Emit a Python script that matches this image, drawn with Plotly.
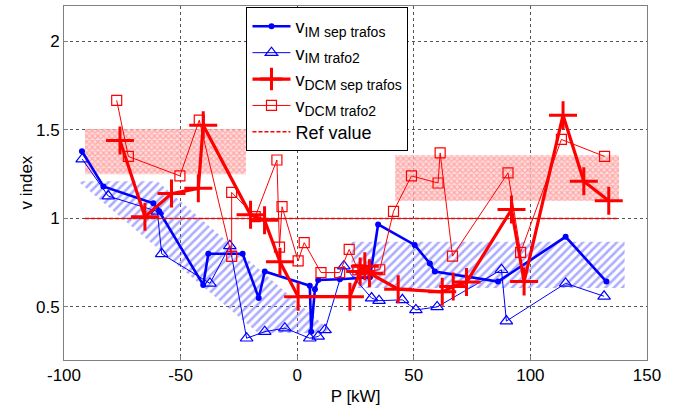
import plotly.graph_objects as go

# ---- data ----
im_sep_x = [-92.3, -83.1, -61.7, -59.2, -40.3, -38.1, -23.4, -16.5, -13.9, 5.4, 6.0, 7.6, 9.0, 18.3, 31.2, 34.7, 50.4, 56.9, 59.0, 86.1, 115.1, 132.6]
im_sep_y = [1.38, 1.18, 1.085, 1.04, 0.624, 0.80, 0.80, 0.55, 0.70, 0.62, 0.36, 0.60, 0.652, 0.656, 0.667, 0.966, 0.85, 0.745, 0.70, 0.643, 0.896, 0.643]

im_tr2_x = [-92.2, -81.0, -60.0, -58.1, -37.4, -28.9, -21.7, -13.9, -5.3, 5.4, 9.0, 11.9, 20.0, 31.9, 35.1, 45.1, 50.9, 60.0, 87.6, 89.7, 115.1, 131.6]
im_tr2_y = [1.335, 1.126, 1.04, 0.80, 0.633, 0.845, 0.323, 0.36, 0.38, 0.323, 0.333, 0.37, 0.73, 0.55, 0.535, 0.54, 0.483, 0.50, 0.71, 0.42, 0.633, 0.56]

dcm_sep_x = [-76.0, -65.3, -53.9, -42.4, -40.3, -20.0, -14.0, -7.4, 0.4, 22.6, 27.0, 29.0, 31.0, 43.3, 62.2, 66.9, 72.6, 91.9, 97.3, 114.0, 122.9, 133.6]
dcm_sep_y = [1.44, 1.01, 1.14, 1.17, 1.526, 1.02, 0.99, 0.755, 0.558, 0.558, 0.70, 0.73, 0.69, 0.60, 0.585, 0.615, 0.64, 1.05, 0.643, 1.583, 1.21, 1.10]

dcm_tr2_x = [-77.4, -72.4, -50.3, -42.0, -28.1, -28.1, -18.0, -8.7, -7.6, -6.5, 0.4, 3.0, 10.2, 18.2, 22.3, 26.0, 28.3, 35.4, 41.3, 49.0, 60.4, 61.3, 66.6, 90.4, 95.8, 113.3, 131.8]
dcm_tr2_y = [1.667, 1.35, 1.24, 1.555, 0.785, 1.147, 1.01, 1.33, 0.838, 1.066, 0.76, 0.863, 0.694, 0.694, 0.825, 0.71, 0.70, 0.71, 1.04, 1.24, 1.20, 1.37, 0.787, 1.257, 0.808, 1.446, 1.35]

ref_x = [-91, 137]
ref_y = [1.0, 1.0]

x_ticks = [-100, -50, 0, 50, 100, 150]
x_ticklabels = ["-100", "-50", "0", "50", "100", "150"]
y_ticks = [0.5, 1, 1.5, 2]
y_ticklabels = ["0.5", "1", "1.5", "2"]

# hatched regions (polygons)
red_box1_x = [-91, -22, -22, -91, -91]
red_box1_y = [1.25, 1.25, 1.505, 1.505, 1.25]
red_box2_x = [42, 138, 138, 42, 42]
red_box2_y = [1.10, 1.10, 1.357, 1.357, 1.10]
blue_band1_x = [-94, -60, 15.3, -16.8, -94]
blue_band1_y = [1.21, 1.21, 0.353, 0.353, 1.21]
blue_box2_x = [23.3, 140.4, 140.4, 23.3, 23.3]
blue_box2_y = [0.607, 0.607, 0.868, 0.868, 0.607]

FONT = "Liberation Sans, Arial"


def sub_name(main, sub):
    return "%s<sub><span style='font-size:14px'>%s</span></sub>" % (main, sub)


fig = go.Figure()

red_pat = dict(shape="x", fgcolor="#ff7070", bgcolor="rgba(255,205,205,0.7)", size=4, solidity=0.5)
blue_pat = dict(shape="/", fgcolor="#5a5aff", bgcolor="rgba(0,0,0,0)", size=6, solidity=0.42)

for px, py, pat in [(red_box1_x, red_box1_y, red_pat), (red_box2_x, red_box2_y, red_pat),
                    (blue_band1_x, blue_band1_y, blue_pat), (blue_box2_x, blue_box2_y, blue_pat)]:
    fig.add_trace(go.Scatter(x=px, y=py, mode="lines", fill="toself", line=dict(width=0),
                             fillcolor="rgba(0,0,0,0)", fillpattern=pat, showlegend=False,
                             hoverinfo="skip"))

fig.add_trace(go.Scatter(x=im_sep_x, y=im_sep_y, mode="lines+markers",
                         name=sub_name("v", "IM sep trafos"),
                         line=dict(color="#0000ff", width=2.6),
                         marker=dict(symbol="circle", size=6, color="#0000ff")))
fig.add_trace(go.Scatter(x=im_tr2_x, y=im_tr2_y, mode="lines+markers",
                         name=sub_name("v", "IM trafo2"),
                         line=dict(color="#0000ff", width=1),
                         marker=dict(symbol="triangle-up-open", size=11, color="#0000ff",
                                     line=dict(width=1.2))))
fig.add_trace(go.Scatter(x=dcm_sep_x, y=dcm_sep_y, mode="lines+markers",
                         name=sub_name("v", "DCM sep trafos"),
                         line=dict(color="#ff0000", width=3.2),
                         marker=dict(symbol="cross-thin-open", size=20, color="#ff0000",
                                     line=dict(width=3, color="#ff0000"))))
fig.add_trace(go.Scatter(x=dcm_tr2_x, y=dcm_tr2_y, mode="lines+markers",
                         name=sub_name("v", "DCM trafo2"),
                         line=dict(color="#ff0000", width=1),
                         marker=dict(symbol="square-open", size=10, color="#ff0000",
                                     line=dict(width=1.2))))
fig.add_trace(go.Scatter(x=ref_x, y=ref_y, mode="lines", name="Ref value",
                         line=dict(color="#ff0000", width=1.5, dash="4px,2px")))

axis_common = dict(showline=True, mirror=True, linecolor="#808080", linewidth=1,
                   showgrid=True, gridcolor="#555555", griddash="dot", gridwidth=1,
                   zeroline=False, ticks="inside", ticklen=4, tickcolor="#808080",
                   tickfont=dict(family=FONT, size=17, color="black"))

fig.update_xaxes(range=[-100, 150], tickvals=x_ticks, ticktext=x_ticklabels,
                 title=dict(text="P [kW]", font=dict(family=FONT, size=17, color="black"), standoff=5),
                 **axis_common)
fig.update_yaxes(range=[0.2, 2.2], tickvals=y_ticks, ticktext=y_ticklabels, **axis_common)

fig.add_annotation(text="v index", xref="paper", yref="paper", x=-0.066, y=0.5,
                   xanchor="center", yanchor="middle", textangle=-90, showarrow=False,
                   font=dict(family=FONT, size=17, color="black"))

fig.update_layout(
    width=675, height=412,
    margin=dict(l=64, r=28, t=6, b=52),
    paper_bgcolor="white", plot_bgcolor="white",
    font=dict(family=FONT, size=16, color="black"),
    legend=dict(x=0.313, y=0.997, xanchor="left", yanchor="top",
                bgcolor="white", bordercolor="black", borderwidth=1,
                font=dict(family=FONT, size=18), tracegroupgap=0, itemwidth=38),
    showlegend=True,
)

fig.write_html("out.html")
